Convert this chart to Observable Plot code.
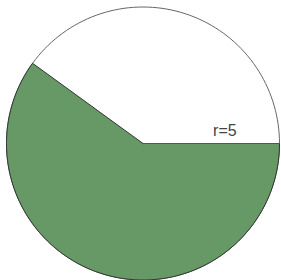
<!DOCTYPE html>
<html>
<head>
<meta charset="utf-8">
<script src="https://cdn.jsdelivr.net/npm/d3@7"></script>
<script src="https://cdn.jsdelivr.net/npm/@observablehq/plot@0.6"></script>
<style>
  html, body { margin: 0; padding: 0; background: #fff; }
</style>
</head>
<body>
<div id="chart"></div>
<script>
// Data
const radius = [5];
const shadedFraction = [0.6];   // fraction of the circle that is shaded
const startAngleDeg = [0];      // shaded sector starts at the positive x axis, goes clockwise
const labels = ["r=5"];

const r = radius[0];
const N = 180;
// full circle outline
const circlePts = d3.range(N + 1).map(i => {
  const a = (i / N) * 2 * Math.PI;
  return {x: r * Math.cos(a), y: r * Math.sin(a)};
});
// shaded sector: from start angle, going clockwise by fraction*360
const a0 = startAngleDeg[0] * Math.PI / 180;
const span = shadedFraction[0] * 2 * Math.PI;
const sectorPts = [{x: 0, y: 0}].concat(
  d3.range(N + 1).map(i => {
    const a = a0 - (i / N) * span;
    return {x: r * Math.cos(a), y: r * Math.sin(a)};
  }),
  [{x: 0, y: 0}]
);
const radiusLine = [{x: 0, y: 0}, {x: r, y: 0}];

const chart = Plot.plot({
  width: 281,
  height: 280,
  marginLeft: 6,
  marginRight: 2,
  marginTop: 6.5,
  marginBottom: 0.5,
  x: {domain: [-r, r], axis: null},
  y: {domain: [-r, r], axis: null},
  style: {background: "#fff", fontFamily: "Liberation Sans, Arial, sans-serif"},
  marks: [
    Plot.line(circlePts, {x: "x", y: "y", stroke: "#666", strokeWidth: 1, fill: "#fff"}),
    Plot.line(sectorPts, {x: "x", y: "y", fill: "#679967", stroke: "#333", strokeWidth: 1, strokeLinejoin: "miter"}),
    Plot.line(radiusLine, {x: "x", y: "y", stroke: "#555", strokeWidth: 1}),
    Plot.text(labels, {x: () => 3.0, y: () => 0, text: d => d, dy: -13, fontSize: 16, fill: "#444"})
  ]
});
document.getElementById("chart").appendChild(chart);
</script>
</body>
</html>
